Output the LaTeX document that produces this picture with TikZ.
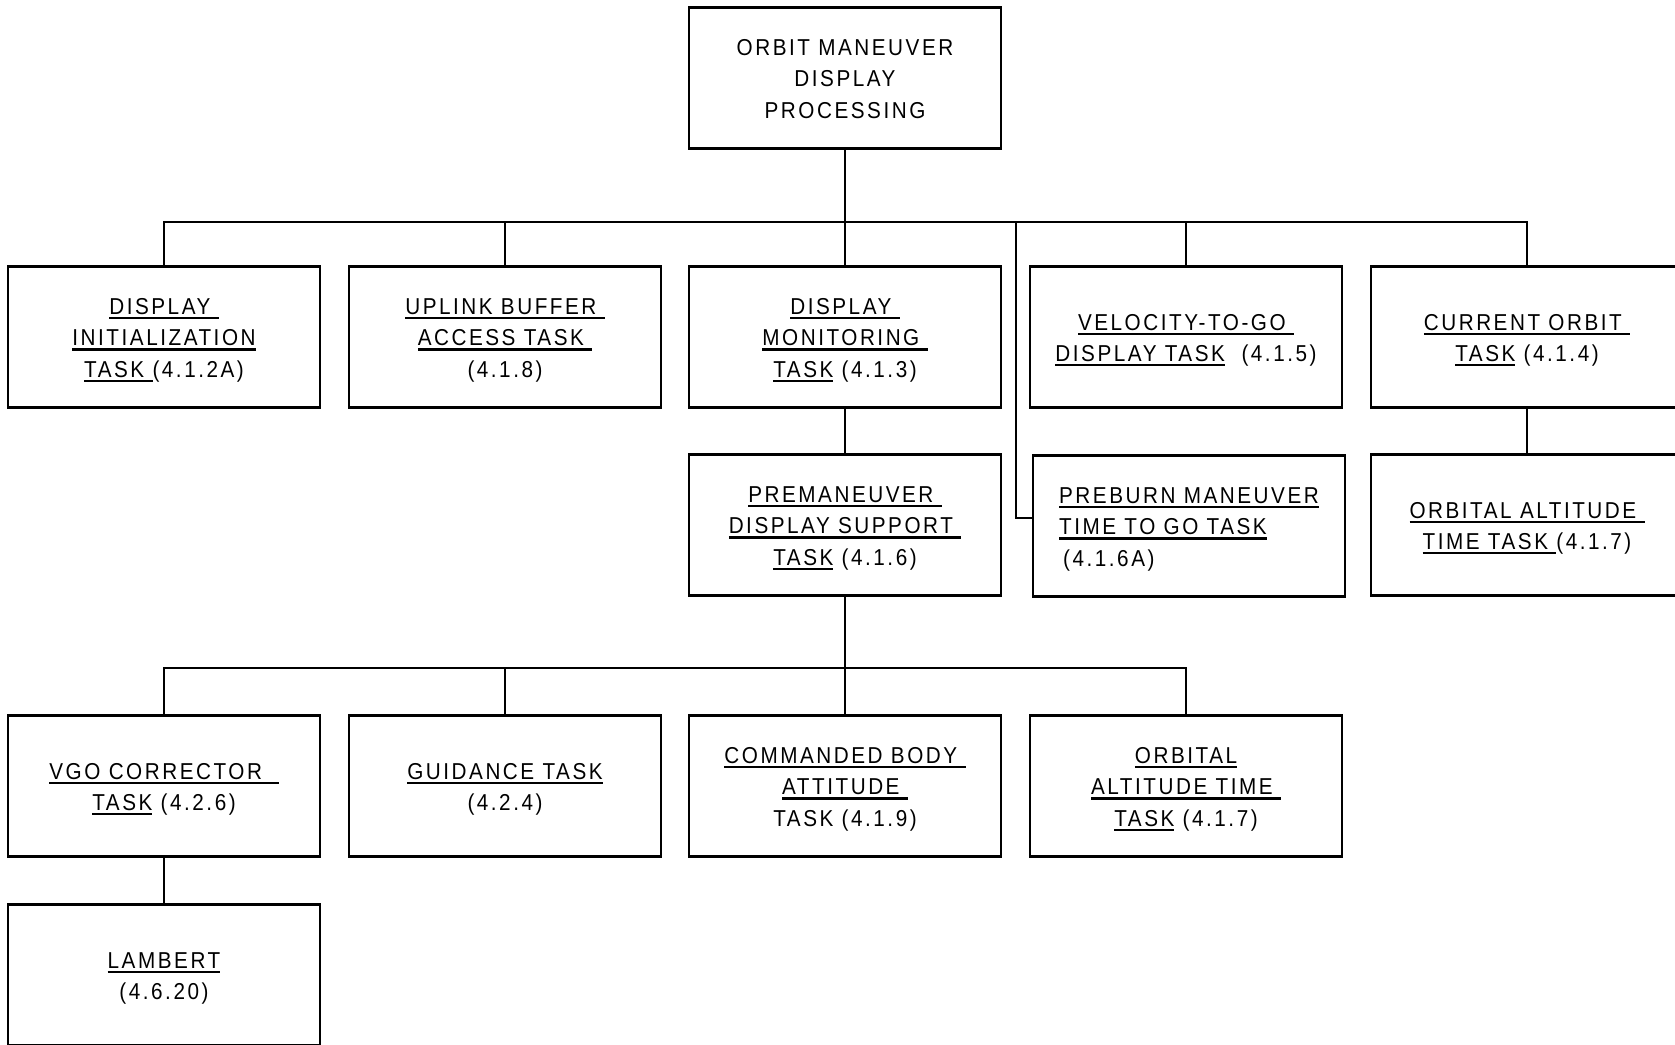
\documentclass[tikz,border=0pt]{standalone}
\usepackage{fontspec}
\setmainfont{Liberation Sans}[LetterSpace=11,FakeStretch=0.9]
\newcommand\ulx[1]{\leavevmode\setbox0\hbox{#1}\rlap{\rule[-4.8pt]{\wd0}{2.3pt}}\box0\relax}
\newcommand\hs{\rule{0pt}{23.5pt}}
\begin{document}
\begin{tikzpicture}[x=1pt,y=-1pt,
  box/.style={draw, line width=2.6pt, minimum width=312pt, minimum height=141pt, inner sep=0pt, align=center, font=\fontsize{23}{31.5}\selectfont,
    execute at end node={\rule[-6pt]{0pt}{6pt}}},
  conn/.style={line width=2.4pt}]
\fill[white] (0,0) rectangle (1675,1044);
\useasboundingbox (0,0) rectangle (1675,1044);
\clip (0,0) rectangle (1675,1044);

\node[box] (top) at (845,78) {\hs ORBIT MANEUVER\\DISPLAY\\PROCESSING};

\node[box] (A) at (164,337) {\hs\ulx{DISPLAY\ }\\\ulx{INITIALIZATION}\\\ulx{TASK\ }(4.1.2A)};
\node[box] (B) at (505,337) {\hs\ulx{UPLINK BUFFER\ }\\\ulx{ACCESS TASK\ }\\(4.1.8)};
\node[box] (C) at (845,337) {\hs\ulx{DISPLAY\ }\\\ulx{MONITORING\ }\\\ulx{TASK} (4.1.3)};
\node[box] (D) at (1186,337) {\hs\ulx{VELOCITY-TO-GO\ }\\\ulx{DISPLAY TASK}\ \ (4.1.5)};
\node[box] (E) at (1527,337) {\hs\ulx{CURRENT ORBIT\ }\\\ulx{TASK} (4.1.4)};

\node[box] (PM) at (845,525) {\hs\ulx{PREMANEUVER\ }\\\ulx{DISPLAY SUPPORT\ }\\\ulx{TASK} (4.1.6)};
\node[box, align=left] (PB) at (1189,526) {\hs\ulx{PREBURN MANEUVER}\\\ulx{TIME TO GO TASK}\\\hspace*{4pt}(4.1.6A)};
\node[box] (OA) at (1527,525) {\hs\ulx{ORBITAL ALTITUDE\ }\\\ulx{TIME TASK\ }(4.1.7)};

\node[box] (V) at (164,786) {\hs\ulx{VGO CORRECTOR\ \ }\\\ulx{TASK} (4.2.6)};
\node[box] (G) at (505,786) {\hs\ulx{GUIDANCE TASK}\\(4.2.4)};
\node[box] (CB) at (845,786) {\hs\ulx{COMMANDED BODY\ }\\\ulx{ATTITUDE\ }\\TASK (4.1.9)};
\node[box] (O) at (1186,786) {\hs\ulx{ORBITAL}\\\ulx{ALTITUDE TIME\ }\\\ulx{TASK} (4.1.7)};

\node[box] (L) at (164,975) {\hs\ulx{LAMBERT}\\(4.6.20)};

\coordinate (bus1) at (845,222);
\coordinate (bus2) at (845,668);
\coordinate (pbj) at (1016,518);

\draw[conn] (top.south) -- (C.north);
\draw[conn] (A.north) -- (A.north |- bus1) -- (E.north |- bus1) -- (E.north);
\draw[conn] (B.north) -- (B.north |- bus1);
\draw[conn] (D.north) -- (D.north |- bus1);
\draw[conn] (pbj |- bus1) -- (pbj) -- (pbj -| PB.west);
\draw[conn] (C.south) -- (PM.north);
\draw[conn] (E.south) -- (OA.north);
\draw[conn] (PM.south) -- (CB.north);
\draw[conn] (V.north) -- (V.north |- bus2) -- (O.north |- bus2) -- (O.north);
\draw[conn] (G.north) -- (G.north |- bus2);
\draw[conn] (V.south) -- (L.north);
\end{tikzpicture}
\end{document}
